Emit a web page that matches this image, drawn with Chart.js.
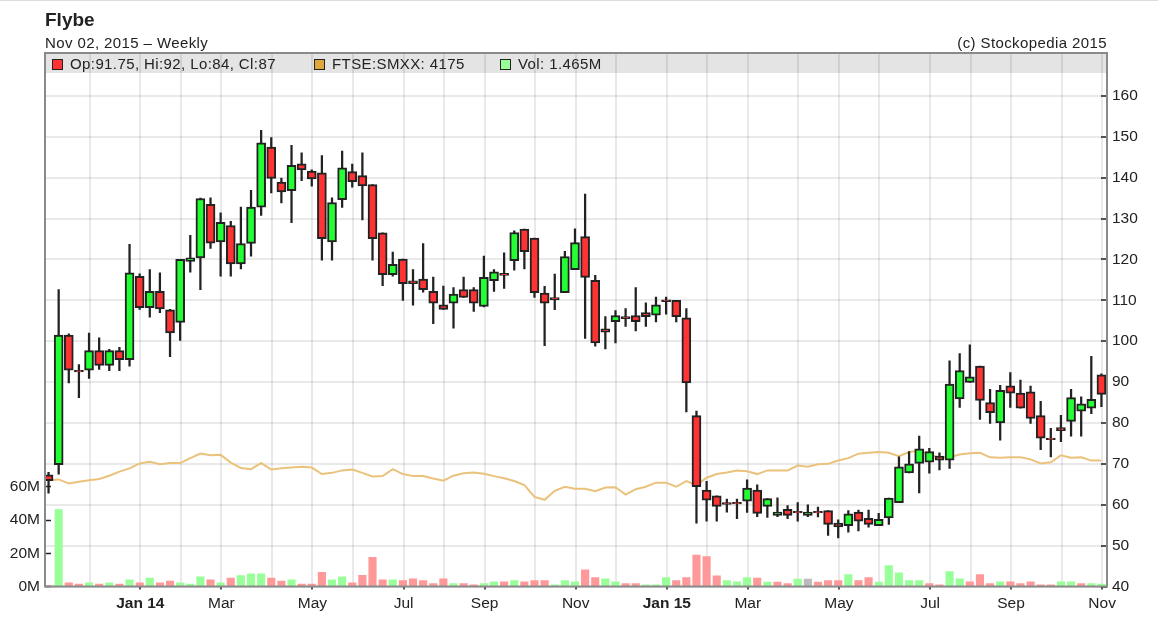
<!DOCTYPE html>
<html>
<head>
<meta charset="utf-8">
<title>Flybe</title>
<script src="https://cdn.jsdelivr.net/npm/chart.js@4/dist/chart.umd.min.js"></script>
<style>
    body { margin: 0; background: #fff; width: 1158px; height: 631px; overflow: hidden; font-family: "Liberation Sans", sans-serif; color: #222; }
    #wrap { position: relative; width: 1158px; height: 631px; }
    #topline { position: absolute; left: 0; top: 0; width: 1158px; height: 1px; background: #ddd; }
    .txt { position: absolute; white-space: nowrap; font-size: 15px; line-height: 18px; letter-spacing: 0.4px; }
    .sw { position: absolute; width: 9px; height: 9px; border: 1.5px solid #222; top: 59px; }
</style>
</head>
<body>
<div id="wrap">
    <canvas id="chart" width="1158" height="631"></canvas>
    <div id="topline"></div>
    <div class="txt" style="left:45px;top:10px;font-size:19px;line-height:20px;font-weight:bold;letter-spacing:0;">Flybe</div>
    <div class="txt" style="left:45px;top:34px;">Nov 02, 2015 &#8211; Weekly</div>
    <div class="txt" style="right:51px;top:34px;">(c) Stockopedia 2015</div>
    <div class="sw" style="left:52px;background:#ff3333;"></div>
    <div class="txt" style="left:70px;top:55px;">Op:91.75, Hi:92, Lo:84, Cl:87</div>
    <div class="sw" style="left:314px;background:#e0a83c;"></div>
    <div class="txt" style="left:332px;top:55px;">FTSE:SMXX: 4175</div>
    <div class="sw" style="left:500px;background:#99ff99;"></div>
    <div class="txt" style="left:518px;top:55px;">Vol: 1.465M</div>
</div>
<script>
// weekly candles
const opens = [67.3,69.8,101.5,92.9,92.9,97.7,94.1,97.7,95.5,115.9,108.2,112.2,107.7,104.6,119.5,120.4,133.5,124.3,128.3,118.9,123.9,132.8,147.5,138.9,136.8,143.4,141.6,141.2,124.3,134.6,141.5,140.5,138.3,126.5,116.3,120.1,114.8,115.2,112.2,108.9,109.3,112.6,112.6,108.5,114.8,116.6,119.7,127.4,125.2,111.8,110.7,111.9,117.5,125.6,114.9,103,104.8,106,106.3,107,106.4,110.1,110,105.7,81.8,63.6,62.2,60.5,60.6,60.9,63.6,59.6,57.4,58.9,58.4,57.4,58.4,58.6,55.5,54.9,58.2,56.7,54.9,56.8,60.5,67.8,70.1,70.4,71.9,70.9,85.9,89.9,93.9,85,80,89.1,87.3,87.6,81.8,76.3,78.9,80.4,82.9,83.6,91.75];
const highs = [67.9,112.6,101.8,94.3,102,100.8,98,98.5,123.7,116.5,117.5,116.7,107.8,120,125.9,135,135.1,131.4,129.3,132.8,136.9,151.6,149.8,139.9,147.9,146.1,141.9,145.4,135.1,146.5,143.3,146.1,138.3,126.5,121.8,120.1,117.5,123.9,115.7,113.5,113.1,115.7,113.1,120.8,117.5,121.6,127,127.4,125.2,113.4,116.4,122,127.5,136,116.1,106,107.5,108,113.1,109.4,110.8,110.8,110,108,82.9,65.7,62.2,61.4,61.4,66.1,64.9,61.5,61.7,59.8,60.5,60,59.4,58.6,56.3,58.6,58.7,58.7,57.9,61.6,71.7,73,76.8,73.8,72.7,95.2,97,99.1,93.9,88.2,89.2,92.3,90.5,89,85.3,78.7,81.9,88.2,86.4,96.3,92];
const lows = [62.8,67.5,89.8,86.2,90.9,93.1,92.8,92.8,93.9,107.8,105.9,107,96.2,100.2,116.9,112.6,122.7,115.9,115.9,117.7,120.8,130.8,136.3,133.8,129,139.3,137.9,119.8,119.8,132.7,137.7,129.7,119.8,113.6,115.9,110,108.8,112,104.3,107.8,103.2,110.7,107.3,108.4,112.2,112.9,117.4,117.7,110.7,98.9,107.7,111.9,117.5,100.7,98.8,98.1,99.6,103.6,102.5,103.6,104.7,106.6,104.7,82.7,55.5,56,56,58.2,56.6,58.1,57.1,56.9,57.1,56.6,56,57.1,57,52.5,51.9,53.3,53.6,54.5,54.9,55.2,60.5,67.8,62.9,67.7,68.5,68.9,83.8,89.9,80.9,79.9,75.8,83.8,83.6,79.9,73.5,71.7,75.4,76.8,76.8,82.3,84];
const closes = [65.9,101.5,92.9,92.5,97.7,94.1,97.7,95.5,116.7,108.2,112.2,107.9,102,120,120.4,134.9,124,129.1,118.9,123.9,132.8,148.5,139.8,136.5,143,141.9,139.7,125.1,133.9,142.4,139,138,125.1,116.3,118.8,114.1,114.1,112.6,109.3,107.8,111.5,110.7,109.3,115.6,117,116.1,126.6,121.9,111.9,109.3,110.1,120.7,124.1,115.6,99.6,102.2,106.3,105.5,104.8,106,108.9,109.7,106,89.8,64.4,61.1,59.6,60.1,60.2,64.1,57.9,61.5,58.2,57.4,58,58.2,58,55.2,54.6,57.8,56,55.2,56.4,61.6,69.3,70,73.7,73,70.9,89.5,92.8,91.3,85.5,82.5,88,87.3,83.6,81.1,76.3,75.9,78.1,86.2,84.7,85.8,87];

// volume in millions, bar tint: g / r / n
const volumes = [0.5,46.4,2.2,1.4,2.2,1.4,2.2,1.4,4,2.2,5,2.2,3.2,2.2,1.4,5.8,4,2.2,5,6.6,7.6,7.6,5,3.2,4,1.4,1.4,8.6,4,5.8,2.2,6.8,17.6,4,4,3.6,4.6,3.6,1.8,4.6,1.8,1.8,1,1.8,2.8,2.8,3.6,2.8,3.6,3.6,1,3.6,2.8,10,5.4,4.6,2.8,1.8,1.8,1,1,5.4,3.6,5.4,19,18,6.4,3.6,2.8,5.4,5,2.6,2.6,1.8,4.4,4.4,2.6,3.6,3.6,7.2,3.6,5.4,2.6,12.6,8.2,3.6,3.6,1.8,1,9,4.6,2.8,7.2,1.8,2.8,2.8,1.8,2.8,1,1,2.8,2.8,1.8,1.8,1.465];
const volTints = [
    "r","g","r","r","g","r","g","r","g","r","g","r","r","g","g","g","r","g","r","g","g","g","r","r","g",
    "r","r","r","g","g","r","r","r","r","g","r","r","r","r","r","g","r","r","g","g","r","g","r","r","r",
    "g","g","g","r","r","g","g","r","r","g","g","g","r","r","r","r","r","g","g","g","r","g","r","r","g",
    "n","r","r","r","g","r","r","g","g","g","g","g","r","r","g","g","r","r","r","g","r","r","r","r","r",
    "g","g","r","g","g"
];

// FTSE small cap line, rebased to the price axis as on the original
const ftse = [66,66.2,65.2,65.6,66,66.3,67.1,68.1,68.9,70.1,70.5,69.9,70.2,70.2,71.4,72.5,72.1,72.2,70.3,69,68.7,70.2,68.6,68.9,69.1,69.3,69.1,67.5,67.8,68.4,68.6,67.8,66.9,67,68.7,67.5,67,67,66.4,65.9,67.1,67.7,67.9,67.6,67,66.5,65.8,64.8,61.9,61.2,63.4,64.4,63.9,63.9,63.3,64.2,64.3,62.5,63.8,64.4,65.4,65.4,64.4,65.8,64.8,66.6,67.5,67.9,68.4,68.2,67.5,68.4,68.4,68.4,69.6,69.3,69.9,70,70.8,71.4,72.5,72.7,72.9,72.7,71.9,72.9,73.2,72.2,71.6,71.6,72.3,72.6,72.7,71.6,71.5,71.6,71.6,71.1,70.1,70.4,72.1,71.5,71.6,70.8,70.8];

// month gridlines (week index), every second one carries a label
const monthWeeks = [4,9,13,17,22,26,30,35,39,43,48,52,56,61,65,69,74,78,82,87,91,95,100,104];
const monthLabels = ["","Jan 14","","Mar","","May","","Jul","","Sep","","Nov","","Jan 15","","Mar","","May","","Jul","","Sep","","Nov"];
const priceTicks = [40,50,60,70,80,90,100,110,120,130,140,150,160];
const volTicks = [0,20,40,60];

const RED = "#ff3333";
const GREEN = "#22ff33";
const INK = "#222222";
const GRID = "rgba(0,0,0,0.085)";
const FONT = "'Liberation Sans', sans-serif";
const tintColors = { g: "#99ff99", r: "#ff9999", n: "#bbbbbb" };

function toBars(a, b) {
    return a.map(function (v, i) { return { x: i, y: [v, b[i]] }; });
}

// grey strip behind the legend and the frame round the plot
const framePlugin = {
    id: "frame",
    beforeDraw: function (chart) {
        let a = chart.chartArea;
        chart.ctx.save();
        chart.ctx.fillStyle = "#e4e4e4";
        chart.ctx.fillRect(a.left, a.top, a.right - a.left, 20);
        chart.ctx.restore();
    },
    afterDatasetsDraw: function (chart) {
        let a = chart.chartArea;
        chart.ctx.save();
        chart.ctx.strokeStyle = "#8a8a8a";
        chart.ctx.lineWidth = 2;
        chart.ctx.strokeRect(a.left, a.top, a.right - a.left, a.bottom - a.top);
        chart.ctx.restore();
    }
};

new Chart(document.getElementById("chart"), {
    type: "bar",
    data: {
        datasets: [
            {
                label: "Body",
                data: toBars(opens, closes),
                xAxisID: "x", yAxisID: "price",
                grouped: false, order: 1,
                barThickness: 9,
                backgroundColor: opens.map(function (o, i) { return closes[i] >= o ? GREEN : RED; }),
                borderColor: INK, borderWidth: 2, borderSkipped: false
            },
            {
                label: "Wick",
                data: toBars(lows, highs),
                xAxisID: "x", yAxisID: "price",
                grouped: false, order: 2,
                barThickness: 1.6,
                backgroundColor: INK
            },
            {
                type: "line",
                label: "FTSE:SMXX",
                data: ftse.map(function (v, i) { return { x: i, y: v }; }),
                xAxisID: "x", yAxisID: "price",
                order: 3,
                borderColor: "#eac27c", borderWidth: 2, pointRadius: 0, tension: 0
            },
            {
                label: "Vol",
                data: volumes.map(function (v, i) { return { x: i, y: v }; }),
                xAxisID: "x", yAxisID: "vol",
                grouped: false, order: 4,
                barThickness: 7.5,
                backgroundColor: volTints.map(function (t) { return tintColors[t]; })
            }
        ]
    },
    options: {
        responsive: false,
        animation: false,
        layout: { padding: { top: 53, left: 0, right: 0, bottom: 0 } },
        plugins: { legend: { display: false }, tooltip: { enabled: false }, title: { display: false } },
        scales: {
            x: {
                type: "linear", position: "bottom",
                offset: false,
                min: -0.35, max: 104.55,
                afterFit: function (s) { s.height = 44.5; },
                afterBuildTicks: function (s) {
                    s.ticks = monthWeeks.map(function (w) { return { value: w + 0.07 }; });
                },
                border: { display: false },
                grid: {
                    offset: false,
                    color: GRID, lineWidth: 2, tickLength: 3, tickWidth: 1.5,
                    tickColor: function (c) { return monthLabels[c.index] ? INK : "rgba(0,0,0,0)"; }
                },
                ticks: {
                    autoSkip: false, maxRotation: 0, padding: 5, color: INK,
                    font: function (c) {
                        let bold = (monthLabels[c.index] || "").indexOf("Jan") == 0;
                        return { family: FONT, size: 15.5, weight: bold ? "bold" : "normal" };
                    },
                    callback: function (v, i) { return monthLabels[i]; }
                }
            },
            price: {
                type: "linear", position: "right",
                min: 40, max: 170.5,
                afterFit: function (s) { s.width = 51; },
                afterBuildTicks: function (s) {
                    s.ticks = priceTicks.map(function (v) { return { value: v }; });
                },
                border: { display: false },
                grid: { color: GRID, lineWidth: 2, tickLength: -6, tickColor: INK, tickWidth: 1.5 },
                ticks: { padding: 11, color: INK, font: { family: FONT, size: 15.5 } }
            },
            vol: {
                type: "linear", position: "left",
                min: 0, max: 321.4,
                afterFit: function (s) { s.width = 45; },
                afterBuildTicks: function (s) {
                    s.ticks = volTicks.map(function (v) { return { value: v }; });
                },
                border: { display: false },
                grid: { drawOnChartArea: false, tickLength: -6, tickColor: INK, tickWidth: 1.5 },
                ticks: {
                    padding: 11, color: INK, font: { family: FONT, size: 15.5 },
                    callback: function (v) { return v + "M"; }
                }
            }
        }
    },
    plugins: [framePlugin]
});
</script>
</body>
</html>
